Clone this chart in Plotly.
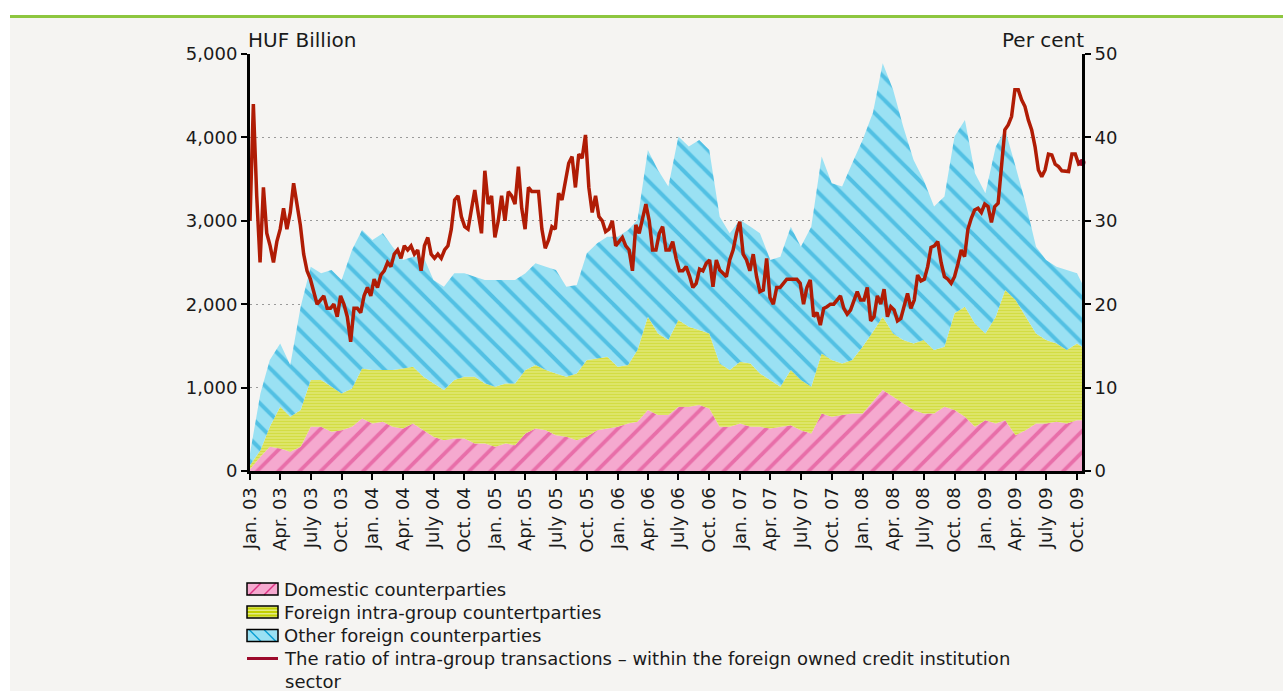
import pandas as pd
import plotly.graph_objects as go

# ---------------------------------------------------------------------------
# Data: interbank FX swap stocks by counterparty (HUF billion, monthly)
# ---------------------------------------------------------------------------
domestic = [20, 170, 290, 270, 230, 290, 530, 530, 470, 490, 530, 630,
            570, 590, 530, 510, 570, 490, 410, 370, 390, 390, 330, 330,
            290, 330, 310, 450, 510, 490, 430, 410, 370, 410, 490, 510,
            530, 570, 590, 730, 670, 670, 770, 770, 790, 750, 530, 530,
            570, 530, 530, 510, 530, 550, 490, 450, 690, 650, 670, 690,
            690, 830, 970, 890, 810, 730, 690, 690, 770, 730, 650, 530,
            610, 570, 610, 430, 490, 570, 570, 590, 570, 610,
            610]

foreign_intra_group = [50, 80, 240, 500, 420, 440, 560, 560, 540, 440, 460, 600,
                       640, 620, 680, 720, 680, 640, 640, 600, 700, 740, 800, 720,
                       720, 720, 740, 760, 760, 720, 740, 720, 800, 920, 860, 860,
                       720, 700, 860, 1120, 980, 900, 1040, 960, 900, 900, 760, 680,
                       740, 760, 640, 580, 480, 660, 600, 560, 720, 680, 620, 640,
                       800, 840, 880, 760, 760, 800, 880, 760, 720, 1160, 1320, 1240,
                       1040, 1280, 1560, 1620, 1360, 1080, 1000, 940, 880, 920,
                       880]

other_foreign = [140, 680, 800, 760, 620, 1240, 1360, 1280, 1400, 1360, 1660, 1660,
                 1560, 1640, 1480, 1300, 1320, 1440, 1240, 1240, 1280, 1240, 1200, 1240,
                 1280, 1240, 1240, 1160, 1220, 1240, 1240, 1080, 1060, 1280, 1380, 1440,
                 1560, 1620, 1560, 2000, 1960, 1840, 2200, 2160, 2280, 2200, 1760, 1640,
                 1700, 1640, 1680, 1440, 1560, 1720, 1600, 1920, 2360, 2120, 2120, 2360,
                 2480, 2630, 3040, 2920, 2560, 2200, 1920, 1720, 1800, 2120, 2240, 1800,
                 1680, 2040, 1920, 1600, 1360, 1040, 960, 920, 960, 840,
                 760]

# observation dates of the stocks: first day of each month, plus the last observation
area_dates = list(pd.date_range("2003-01-01", periods=82, freq="MS").strftime("%Y-%m-%d")) + ["2009-10-16"]

# ratio of intra-group transactions (per cent), every 10 days from 1 Jan 2003
intra_group_ratio = [
    30, 44, 33, 25, 34, 28.5, 27, 25, 27.5, 29,
    31.5, 29, 31, 34.5, 32, 29.5, 26, 24, 23, 21.5,
    20, 20.5, 21, 19.5, 19.5, 20, 18.5, 21, 20, 18.5,
    15.5, 19.5, 19.5, 19, 21, 22, 21, 23, 22, 23.5,
    24, 25, 24.5, 26, 26.5, 25.5, 27, 26.5, 27, 26,
    26.5, 24, 27, 28, 26, 25.5, 26, 25.5, 26.5, 27,
    29, 32.5, 33,
    30.5, 29.3, 29, 31.7, 33.7, 31, 28.5, 36, 32, 33,
    28, 30, 33, 30, 33.5, 33, 32, 36.5, 31.5, 29,
    34, 33.5, 33.5, 33.5, 29, 26.7, 27.7, 29.3, 29, 33.3,
    32.5, 35, 36.9, 37.7, 34, 38, 37.5, 40.3, 34, 31,
    33, 30.5, 30, 28.7, 29, 30, 27, 27.5, 28, 27,
    26.5, 24, 29.5, 28.5, 30.5, 32, 30, 26.5, 26.5, 28.5,
    29.3,
    26.5, 26.5, 27.5, 25.5, 24, 24, 24.5, 23.4, 22, 22.5,
    24.2, 24, 24.9, 25.3, 22.1, 25.3, 24.1, 23.7, 23.3, 25.3,
    26.5, 28.5, 29.9, 26, 25.3, 24, 26, 23.3, 21.5, 21.7,
    25.5, 20.8, 20, 22, 22, 22.5, 23, 23, 23, 23,
    22.5, 20, 22, 22.9, 18.5, 19, 17.5, 19.5, 19.7, 20,
    20, 20.5, 21, 19.5, 18.8, 19.3, 20.5, 21.5, 20.5, 20.5,
    22,
    18, 18.5, 21, 20, 21.8, 18.5, 19.7, 19.3, 18, 18.3,
    20, 21.3, 19.5, 20.5, 23.5, 22.8, 23, 24.5, 26.8, 27,
    27.5, 25, 23.3, 23, 22.5, 23.3, 24.8, 26.5, 25.7, 29,
    30.3, 31.3, 31.5, 31, 32, 31.7, 29.8, 31.7, 32.1, 37,
    40.9, 41.5, 42.5, 45.7, 45.7, 44.5, 43.7, 42.1, 40.9, 38.9,
    36.1, 35.3, 36.1, 38, 37.9, 36.8, 36.5, 36, 36, 35.9,
    38, 38, 36.8, 37,
]
ratio_dates = pd.date_range("2003-01-01", periods=len(intra_group_ratio), freq="10D")

# quarterly tick labels
tick_dates = pd.date_range("2003-01-01", "2009-10-01", freq="QS")
month_label = {1: "Jan.", 4: "Apr.", 7: "July", 10: "Oct."}
tick_text = [f"{month_label[d.month]} {d.strftime('%y')}" for d in tick_dates]

left_ticks = [0, 1000, 2000, 3000, 4000, 5000]
right_ticks = [0, 10, 20, 30, 40, 50]

series_names = [
    "Domestic counterparties",
    "Foreign intra-group countertparties",
    "Other foreign counterparties",
    "The ratio of intra-group transactions \u2013 within the foreign owned credit institution<br>sector",
]

# ---------------------------------------------------------------------------
# Styling
# ---------------------------------------------------------------------------
FONT = "DejaVu Sans"
TEXT = "#1a1a1a"
PANEL = "#f5f4f2"
PINK_BG, PINK_FG = "#f5a9cf", "#dc3483"
YEL_BG, YEL_FG = "#e4eb86", "#c2d000"
BLUE_BG, BLUE_FG = "#9ae1f3", "#0a9fd4"
RATIO_LINE = "#b01c05"
RATIO_KEY = "#9c0a2b"

W, H = 1283, 691
PLOT_L, PLOT_R, PLOT_T, PLOT_B = 250, 1082, 54, 471


def fx(px):
    return (px - PLOT_L) / (PLOT_R - PLOT_L)


def fy(py):
    return (PLOT_B - py) / (PLOT_B - PLOT_T)


fig = go.Figure()

area_styles = [
    (domestic, dict(shape="/", bgcolor=PINK_BG, fgcolor=PINK_FG, size=15, solidity=0.25), PINK_BG),
    (foreign_intra_group, dict(shape="-", bgcolor=YEL_BG, fgcolor=YEL_FG, size=3, solidity=0.62), YEL_FG),
    (other_foreign, dict(shape="\\", bgcolor=BLUE_BG, fgcolor=BLUE_FG, size=16, solidity=0.25), BLUE_BG),
]
for (vals, pattern, bg), name in zip(area_styles, series_names[:3]):
    fig.add_trace(go.Scatter(
        x=area_dates, y=vals, name=name, mode="lines",
        stackgroup="stock", line=dict(width=0, color=bg),
        fillcolor=bg, fillpattern=pattern, showlegend=False,
    ))

fig.add_trace(go.Scatter(
    x=ratio_dates, y=intra_group_ratio, name=series_names[3], yaxis="y2",
    mode="lines", line=dict(color=RATIO_LINE, width=3.5), showlegend=False,
))
fig.add_trace(go.Scatter(
    x=[ratio_dates[-1]], y=[intra_group_ratio[-1]], yaxis="y2", mode="markers",
    marker=dict(color=RATIO_KEY, size=7), cliponaxis=False, showlegend=False,
))

# ---------------------------------------------------------------------------
# Background panel, header rule and hand-built legend
# ---------------------------------------------------------------------------
shapes = [
    dict(type="rect", xref="paper", yref="paper", x0=fx(10), x1=fx(W), y0=fy(16), y1=fy(H),
         fillcolor=PANEL, line=dict(width=0), layer="below"),
    dict(type="line", xref="paper", yref="paper", x0=fx(10), x1=fx(W), y0=fy(16.5), y1=fy(16.5),
         line=dict(color="#8dc63f", width=3)),
]
annotations = [
    dict(text="HUF Billion", xref="paper", yref="paper", x=fx(246), y=fy(40),
         xanchor="left", yanchor="middle", showarrow=False, font=dict(size=20, family=FONT, color=TEXT)),
    dict(text="Per cent", xref="paper", yref="paper", x=fx(1086), y=fy(40),
         xanchor="right", yanchor="middle", showarrow=False, font=dict(size=20, family=FONT, color=TEXT)),
]

row_y = [589, 612, 635.5, 658.5]
kx0, kx1 = 247, 278
for i, c in enumerate(row_y[:3]):
    y0, y1 = c - 6, c + 6
    bg = [PINK_BG, YEL_BG, BLUE_BG][i]
    shapes.append(dict(type="rect", xref="paper", yref="paper", x0=fx(kx0), x1=fx(kx1),
                       y0=fy(y1), y1=fy(y0), fillcolor=bg, line=dict(width=0)))
    if i == 0:
        for k in (2, 17):
            shapes.append(dict(type="line", xref="paper", yref="paper",
                               x0=fx(kx0 + k), y0=fy(y1), x1=fx(kx0 + k + 12), y1=fy(y0),
                               line=dict(color=PINK_FG, width=1.5)))
    elif i == 1:
        for dy in (-3.5, 0, 3.5):
            shapes.append(dict(type="line", xref="paper", yref="paper",
                               x0=fx(kx0), y0=fy(c + dy), x1=fx(kx1), y1=fy(c + dy),
                               line=dict(color=YEL_FG, width=2)))
    else:
        for k in (2, 17):
            shapes.append(dict(type="line", xref="paper", yref="paper",
                               x0=fx(kx0 + k), y0=fy(y0), x1=fx(kx0 + k + 12), y1=fy(y1),
                               line=dict(color=BLUE_FG, width=1.5)))
    shapes.append(dict(type="rect", xref="paper", yref="paper", x0=fx(kx0), x1=fx(kx1),
                       y0=fy(y1), y1=fy(y0), fillcolor="rgba(0,0,0,0)",
                       line=dict(color="black", width=1.5)))
    annotations.append(dict(text=series_names[i], xref="paper", yref="paper", x=fx(282), y=fy(c),
                            xanchor="left", yanchor="middle", showarrow=False, align="left",
                            font=dict(size=18, family=FONT, color=TEXT)))

shapes.append(dict(type="line", xref="paper", yref="paper", x0=fx(kx0), x1=fx(kx1),
                   y0=fy(row_y[3]), y1=fy(row_y[3]), line=dict(color=RATIO_KEY, width=3)))
annotations.append(dict(text=series_names[3], xref="paper", yref="paper", x=fx(282), y=fy(row_y[3] + 11),
                        xanchor="left", yanchor="middle", showarrow=False, align="left",
                        font=dict(size=18, family=FONT, color=TEXT)))

axis_common = dict(
    showline=True, linecolor="black", linewidth=3, ticks="outside", ticklen=6,
    tickwidth=2, tickcolor="black", zeroline=False,
    tickfont=dict(size=18, family=FONT, color=TEXT),
)

fig.update_layout(
    width=W, height=H, autosize=False,
    margin=dict(l=PLOT_L, r=W - PLOT_R, t=PLOT_T, b=H - PLOT_B, pad=0),
    paper_bgcolor="white", plot_bgcolor="rgba(0,0,0,0)",
    font=dict(family=FONT, size=18, color=TEXT),
    showlegend=False,
    xaxis=dict(type="date", range=["2003-01-01", "2009-10-16"], tickvals=tick_dates,
               ticktext=tick_text, tickangle=-90, showgrid=False, **axis_common),
    yaxis=dict(range=[0, 5000], tickvals=left_ticks, tickformat=",", showgrid=True,
               gridcolor="#9a9a9a", gridwidth=1, griddash="2px,4px", **axis_common),
    yaxis2=dict(range=[0, 50], tickvals=right_ticks, overlaying="y", side="right",
                showgrid=False, **axis_common),
    shapes=shapes,
    annotations=annotations,
)

fig.write_html("out.html")
